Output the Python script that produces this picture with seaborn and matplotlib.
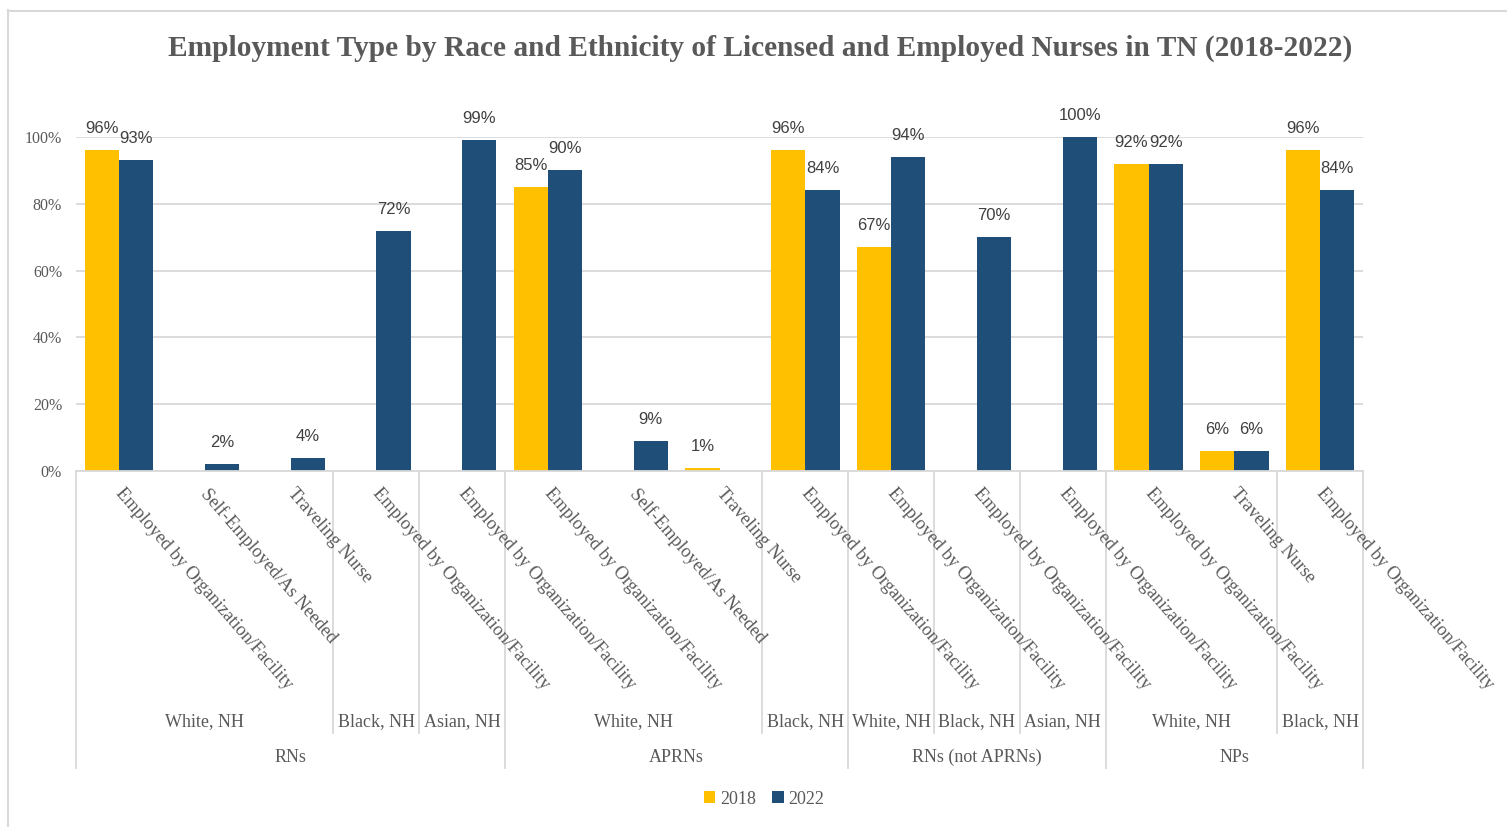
import matplotlib
matplotlib.use("Agg")
import matplotlib.pyplot as plt
import matplotlib.patches as mpatches
import matplotlib.transforms as mtransforms
from matplotlib.lines import Line2D
import numpy as np
import pandas as pd
import seaborn as sns

# ---------------- data ----------------
groups = ["RNs", "RNs", "RNs", "RNs", "RNs",
          "APRNs", "APRNs", "APRNs", "APRNs",
          "RNs (not APRNs)", "RNs (not APRNs)", "RNs (not APRNs)",
          "NPs", "NPs", "NPs"]
races = ["White, NH", "White, NH", "White, NH", "Black, NH", "Asian, NH",
         "White, NH", "White, NH", "White, NH", "Black, NH",
         "White, NH", "Black, NH", "Asian, NH",
         "White, NH", "White, NH", "Black, NH"]
emp_types = ["Employed by Organization/Facility", "Self-Employed/As Needed", "Traveling Nurse",
             "Employed by Organization/Facility", "Employed by Organization/Facility",
             "Employed by Organization/Facility", "Self-Employed/As Needed", "Traveling Nurse",
             "Employed by Organization/Facility",
             "Employed by Organization/Facility", "Employed by Organization/Facility",
             "Employed by Organization/Facility",
             "Employed by Organization/Facility", "Traveling Nurse",
             "Employed by Organization/Facility"]
vals_2018 = [0.96, np.nan, np.nan, np.nan, np.nan,
             0.85, np.nan, 0.01, 0.96,
             0.67, np.nan, np.nan,
             0.92, 0.06, 0.96]
vals_2022 = [0.93, 0.02, 0.04, 0.72, 0.99,
             0.90, 0.09, np.nan, 0.84,
             0.94, 0.70, 1.00,
             0.92, 0.06, 0.84]
years = ["2018", "2022"]
yticks = [0, 0.2, 0.4, 0.6, 0.8, 1.0]
title = "Employment Type by Race and Ethnicity of Licensed and Employed Nurses in TN (2018-2022)"

colors = {"2018": "#FFC000", "2022": "#1F4E79"}
GRAY_TXT = "#595959"
GRID = "#D9D9D9"
SERIF = "Liberation Serif"
SANS = "Liberation Sans"

n = len(emp_types)
keys = [f"c{i}" for i in range(n)]
df = pd.DataFrame({
    "key": keys * 2,
    "year": ["2018"] * n + ["2022"] * n,
    "value": vals_2018 + vals_2022,
})

# ---------------- figure ----------------
W, H = 1507, 827
fig = plt.figure(figsize=(W / 100, H / 100), dpi=100)
ax = fig.add_axes([76 / W, 1 - 471 / H, (1363 - 76) / W, (471 - 137) / H])

sns.barplot(data=df, x="key", y="value", hue="year", order=keys, hue_order=years,
            palette=colors, saturation=1, width=0.8, linewidth=0, errorbar=None,
            ax=ax, legend=False, zorder=3)

ax.set_xlim(-0.5, n - 0.5)
ax.set_ylim(0, 1.0)
ax.set_yticks(yticks)
ax.set_yticklabels([f"{int(round(t*100))}%" for t in yticks], fontfamily=SERIF,
                   fontsize=11.5, color=GRAY_TXT)
ax.tick_params(axis="y", length=0, pad=10)
ax.tick_params(axis="x", length=0, labelbottom=False)
ax.set_xlabel("")
ax.set_ylabel("")
ax.grid(axis="y", color=GRID, linewidth=1.3, zorder=0)
for s in ["top", "right", "left"]:
    ax.spines[s].set_visible(False)
ax.spines["bottom"].set_color(GRID)
ax.spines["bottom"].set_linewidth(1.3)
ax.spines["bottom"].set_zorder(4)

# data labels
for cont in ax.containers:
    for rect in cont.patches:
        v = rect.get_height()
        if np.isnan(v):
            continue
        ax.annotate(f"{int(round(v*100))}%",
                    xy=(rect.get_x() + rect.get_width() / 2, v),
                    xytext=(0, 12.2), textcoords="offset points",
                    ha="center", va="baseline", fontfamily=SANS, fontsize=12,
                    color="#404040", annotation_clip=False)

axh = 471 - 137
trans = mtransforms.blended_transform_factory(ax.transData, ax.transAxes)

# category labels (rotated)
for i, lab in enumerate(emp_types):
    ax.text(i + 0.07, -(485 - 471) / axh, lab, transform=trans, rotation=-49,
            rotation_mode="anchor", ha="left", va="top", fontfamily=SERIF,
            fontsize=13.2, color=GRAY_TXT, clip_on=False)

# multi-level separators and labels
def runs(seq):
    out = []
    start = 0
    for i in range(1, len(seq) + 1):
        if i == len(seq) or seq[i] != seq[start]:
            out.append((start, i - 1, seq[start]))
            start = i
    return out

y_sub_end = -(733 - 471) / axh
y_grp_end = -(768 - 471) / axh
y_sub_lab = -(722 - 471) / axh
y_grp_lab = -(757 - 471) / axh

sub_keys = [g + "|" + r for g, r in zip(groups, races)]
grp_runs = runs(groups)
sub_runs = runs(sub_keys)
grp_edges = set([-0.5] + [e + 0.5 for _, e, _ in grp_runs])
sub_edges = set([e + 0.5 for _, e, _ in sub_runs]) - grp_edges

for x in grp_edges:
    ax.add_line(Line2D([x, x], [0, y_grp_end], transform=trans, color=GRID,
                       linewidth=1.3, clip_on=False))
for x in sub_edges:
    ax.add_line(Line2D([x, x], [0, y_sub_end], transform=trans, color=GRID,
                       linewidth=1.3, clip_on=False))
for s, e, k in sub_runs:
    ax.text((s + e) / 2, y_sub_lab, k.split("|")[1], transform=trans, ha="center",
            va="center", fontfamily=SERIF, fontsize=13, color=GRAY_TXT, clip_on=False)
for s, e, k in grp_runs:
    ax.text((s + e) / 2, y_grp_lab, k, transform=trans, ha="center",
            va="center", fontfamily=SERIF, fontsize=13, color=GRAY_TXT, clip_on=False)

# title
fig.text(760 / W, 1 - 48 / H, title, ha="center", va="center", fontfamily=SERIF,
         fontweight="bold", fontsize=21.2, color=GRAY_TXT)

# legend
handles = [mpatches.Patch(facecolor=colors[y], edgecolor="none", label=y) for y in years]
fig.legend(handles=handles, loc="center", bbox_to_anchor=(764 / W, 1 - 799 / H), ncol=2,
           frameon=False, handlelength=0.65, handleheight=0.65, handletextpad=0.25,
           columnspacing=0.9, prop={"family": SERIF, "size": 13}, labelcolor=GRAY_TXT)

# outer border (left and top visible)
fig.add_artist(Line2D([7.5 / W, 7.5 / W], [0, 1 - 10 / H], transform=fig.transFigure,
                      color=GRID, linewidth=1.5))
fig.add_artist(Line2D([7.5 / W, 1], [1 - 10.5 / H, 1 - 10.5 / H], transform=fig.transFigure,
                      color=GRID, linewidth=1.5))

fig.savefig("out.png", dpi=100, facecolor="white")
